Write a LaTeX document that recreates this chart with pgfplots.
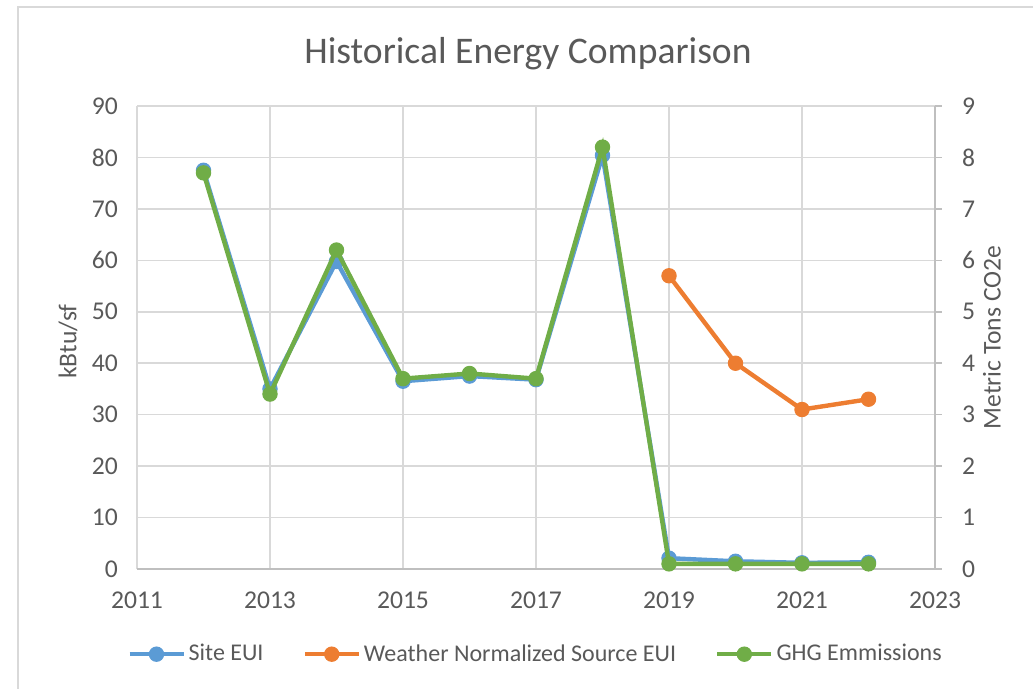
\documentclass[border=0pt]{standalone}
\usepackage{pgfplots}
\pgfplotsset{compat=1.18}
\usepackage{fontspec}
\setmainfont{Carlito}
\definecolor{cBlue}{HTML}{5B9BD5}
\definecolor{cOrange}{HTML}{ED7D31}
\definecolor{cGreen}{HTML}{70AD47}
\definecolor{cGrid}{HTML}{D9D9D9}
\definecolor{cText}{HTML}{595959}
\definecolor{cAxis}{HTML}{BFBFBF}
\newcommand{\lblfont}{\fontsize{12.8pt}{15pt}\selectfont}
\newcommand{\legfont}{\fontsize{12pt}{14pt}\selectfont}
\pgfplotsset{
  common/.style={
    at={(68.5pt,60pt)}, anchor=south west,
    scale only axis, width=399pt, height=231.5pt,
    xmin=2011, xmax=2023,
    xtick={2011,2013,...,2023},
    /pgf/number format/.cd, 1000 sep={}, assume math mode=true, /pgfplots/.cd,
    tick label style={font=\lblfont, text=cText},
    label style={font=\lblfont, text=cText},
  },
  ser/.style={color=#1, line width=2.2pt, mark=*, mark size=3.6pt, mark options={solid, fill=#1, draw=#1, line width=0.5pt}},
}
\begin{document}
\begin{tikzpicture}
\begin{axis}[common,
  ymin=0, ymax=90, ytick={0,10,...,90},
  grid=major, major grid style={cGrid, line width=0.75pt},
  axis x line*=bottom, axis y line*=left,
  x axis line style={cAxis, line width=0.75pt},
  y axis line style={draw=none},
  major tick style={draw=none},
  xticklabel style={yshift=-8pt},
  yticklabel style={xshift=-6pt},
  ylabel={kBtu/sf},
  ylabel style={at={([xshift=-34.5pt,yshift=-2pt]axis description cs:0,0.5)}, anchor=center},
  title={Historical Energy Comparison},
  title style={at={([yshift=15pt,xshift=-4pt]axis description cs:0.5,1)}, anchor=base, font=\fontsize{18.8pt}{22pt}\selectfont, text=cText},
  legend columns=3,
  legend style={at={(0.5,-0.184)}, anchor=center, draw=none, fill=none, font=\legfont, text=cText,
    /tikz/every even column/.append style={column sep=18pt},
    nodes={inner xsep=1.5pt}},
  legend image code/.code={\draw[mark repeat=2, mark phase=2, #1] plot coordinates {(0pt,0pt) (13.5pt,0pt) (27pt,0pt)};},
]
\addplot[ser=cBlue] coordinates {
 (2012,77.5) (2013,35) (2014,59.8) (2015,36.5) (2016,37.5) (2017,36.8)
 (2018,80.4) (2019,2.1) (2020,1.5) (2021,1.2) (2022,1.3)};
\addlegendentry{Site EUI}
\addplot[ser=cOrange] coordinates {
 (2019,57) (2020,40) (2021,31) (2022,33)};
\addlegendentry{Weather Normalized Source EUI}
\addlegendimage{ser=cGreen}
\addlegendentry{GHG Emmissions}
\end{axis}
\begin{axis}[common,
  ymin=0, ymax=9, ytick={0,1,...,9},
  axis y line*=right, axis x line=none,
  y axis line style={cAxis, line width=0.75pt},
  tick align=outside, major tick length=3.5pt,
  ytick style={cAxis, line width=0.75pt},
  yticklabel style={xshift=6.5pt},
  ylabel={Metric Tons CO2e},
  ylabel style={at={([xshift=28.5pt]axis description cs:1,0.5)}, anchor=center},
]
\addplot[ser=cGreen] coordinates {
 (2012,7.7) (2013,3.4) (2014,6.2) (2015,3.7) (2016,3.8) (2017,3.7)
 (2018,8.2) (2019,0.1) (2020,0.1) (2021,0.1) (2022,0.1)};
\end{axis}
\draw[cGrid, line width=0.75pt] (9pt,-5pt) -- (9pt,341pt) -- (530pt,341pt);
\pgfresetboundingbox
\useasboundingbox (0,0) rectangle (516.5pt,344.5pt);
\end{tikzpicture}
\end{document}
